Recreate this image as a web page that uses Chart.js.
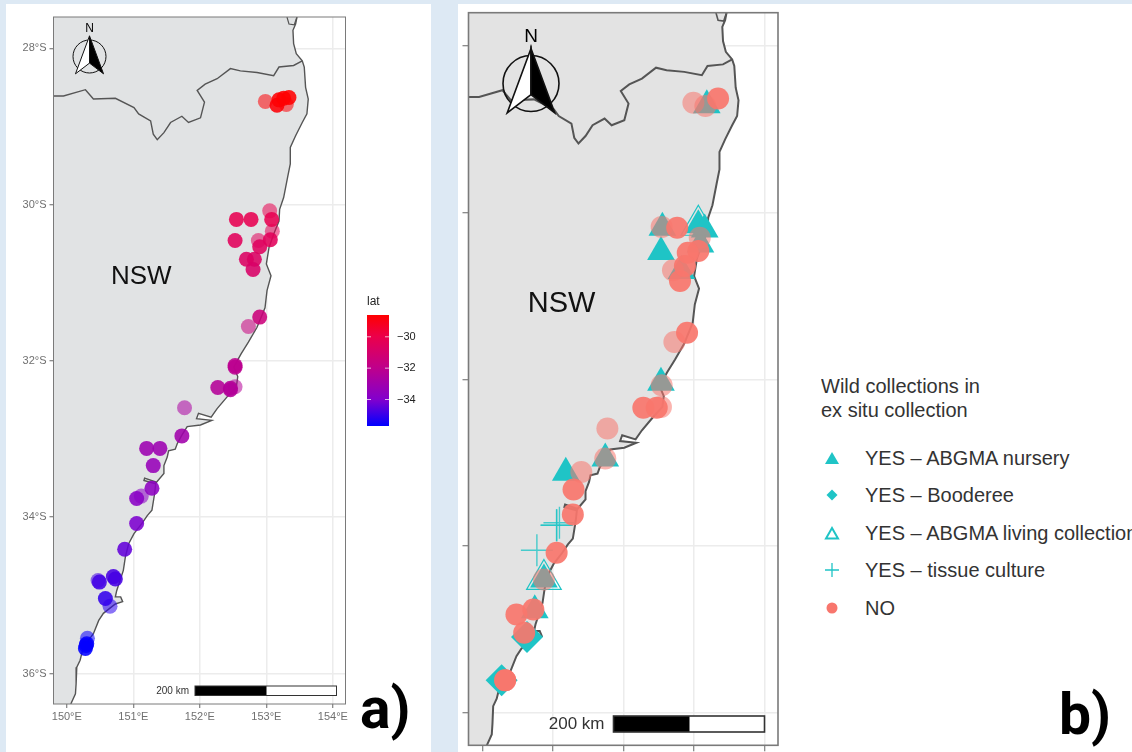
<!DOCTYPE html>
<html>
<head>
<meta charset="utf-8">
<title>Wild collections map</title>
<script src="https://cdn.jsdelivr.net/npm/chart.js@4"></script>
<style>
  html, body { margin: 0; padding: 0; background: #dde9f4; width: 1132px; height: 752px; overflow: hidden; }
  .panel { position: absolute; background: #fff; top: 4px; bottom: 0; height: 748px; }
  #panelA { left: 6px; width: 425px; }
  #panelB { left: 458px; width: 674px; }
  canvas { position: absolute; top: 0; }
  #mapA { left: 0; }
  #mapB { left: 456px; }
  .tag { position: absolute; font: 700 57px Roboto, sans-serif; color: #000; line-height: 1; }
  #legend { position: absolute; left: 821px; top: 374px; width: 311px; height: 250px; overflow: hidden; font: 20px "Liberation Sans", sans-serif; color: #333; white-space: nowrap; }
  #legend .title { position: absolute; left: 0; line-height: 24px; top: 0; }
  #legend .row { position: absolute; left: 44px; line-height: 24px; }
  #legend svg { position: absolute; left: 3px; width: 16px; height: 16px; }
</style>
</head>
<body>
<div class="panel" id="panelA"></div>
<div class="panel" id="panelB"></div>
<canvas id="mapA" width="432" height="752"></canvas>
<canvas id="mapB" width="330" height="752"></canvas>
<div class="tag" style="left:360px;top:680px">a)</div>
<div class="tag" style="left:1059px;top:686px">b)</div>
<div id="legend"></div>
<script>
// Map limits and ticks
const lonMin = 149.8, lonMax = 154.19, latMin = -36.39, latMax = -27.6;
const lonTicks = [150, 151, 152, 153, 154];
const lonLabels = ['150°E', '151°E', '152°E', '153°E', '154°E'];
const latTicks = [-28, -30, -32, -34, -36];
const latLabels = ['28°S', '30°S', '32°S', '34°S', '36°S'];

// Coast from north to south, [lon, lat]
const coastline = [
  [153.46,-27.60],[153.44,-27.69],[153.40,-27.77],[153.41,-27.94],[153.45,-28.07],[153.54,-28.16],
  [153.57,-28.24],[153.59,-28.50],[153.63,-28.65],[153.61,-28.84],[153.54,-28.95],[153.44,-29.12],
  [153.36,-29.27],[153.36,-29.48],[153.32,-29.65],[153.26,-29.91],[153.20,-30.06],[153.19,-30.21],
  [153.11,-30.38],[153.04,-30.55],[153.00,-30.76],[153.07,-30.91],[153.01,-31.10],[152.98,-31.32],
  [152.86,-31.57],[152.73,-31.76],[152.62,-31.91],[152.51,-32.08],[152.57,-32.20],[152.55,-32.33],
  [152.41,-32.46],[152.26,-32.61],[152.17,-32.72],[151.98,-32.67],[151.95,-32.74],[152.18,-32.76],
  [152.01,-32.82],[151.81,-32.84],[151.73,-32.95],[151.66,-33.06],[151.63,-33.13],[151.53,-33.15],
  [151.51,-33.23],[151.46,-33.34],[151.46,-33.44],[151.33,-33.57],[151.16,-33.53],[151.17,-33.50],
  [151.34,-33.55],[151.32,-33.70],[151.28,-33.91],[151.21,-33.98],[151.13,-34.08],[151.01,-34.21],
  [150.93,-34.34],[150.88,-34.51],[150.85,-34.68],[150.75,-34.94],[150.73,-35.02],[150.81,-35.02],
  [150.84,-35.08],[150.73,-35.11],[150.55,-35.23],[150.48,-35.32],[150.40,-35.49],[150.25,-35.66],
  [150.20,-35.83],[150.15,-35.92],[150.14,-36.13],[150.13,-36.26],[150.06,-36.39]
];
const bayLoop = [[153.31,-27.60],[153.34,-27.69],[153.42,-27.70],[153.46,-27.60]];
const stateBorder = [
  [149.80,-28.61],[149.95,-28.61],[150.28,-28.53],[150.40,-28.65],[150.73,-28.64],[151.01,-28.76],
  [151.08,-28.84],[151.26,-28.93],[151.30,-29.10],[151.36,-29.17],[151.46,-29.08],[151.56,-28.95],
  [151.73,-28.87],[151.83,-28.95],[152.01,-28.89],[152.07,-28.69],[151.96,-28.54],[152.08,-28.46],
  [152.26,-28.39],[152.46,-28.26],[152.61,-28.29],[152.86,-28.31],[153.11,-28.35],[153.19,-28.24],
  [153.41,-28.22],[153.54,-28.16]
];

// Panel a occurrences
const sitesSolid = [
  [153.16,-28.73],[153.19,-28.66],[153.26,-28.64],[153.34,-28.63],[153.08,-30.19],[153.06,-30.45],
  [152.55,-30.19],[152.77,-30.19],[152.53,-30.46],[152.90,-30.54],[152.70,-30.70],[152.82,-30.70],
  [152.80,-30.83],[152.90,-31.44],[152.53,-32.06],[152.53,-32.08],[152.27,-32.34],[152.46,-32.35],
  [152.46,-32.37],[151.73,-32.96],[151.20,-33.12],[151.40,-33.12],[151.30,-33.34],[151.28,-33.63],
  [151.05,-33.76],[151.05,-34.08],[150.87,-34.41],[150.70,-34.76],[150.73,-34.79],[150.49,-34.83],
  [150.58,-35.04],[150.30,-35.62],[150.28,-35.68],[150.29,-35.64]
];
const sitesFaint = [
  [152.985,-28.68],[153.30,-28.72],[153.05,-30.08],[153.09,-30.34],[152.88,-30.46],[152.73,-31.56],
  [152.53,-32.33],[151.77,-32.60],[151.12,-33.73],[150.47,-34.81],[150.65,-35.14],[150.31,-35.55]
];

// Colour bar
const latBarTop = -28.61, latBarBottom = -35.69;
const latBarTicks = [-30, -32, -34];
const latBarLabels = ['−30', '−32', '−34'];
const latColorStops = [
  [-35.69, [0, 0, 255]], [-34, [130, 0, 205]], [-32, [190, 0, 140]], [-30, [235, 0, 75]], [-28.61, [255, 0, 0]]
];

// Panel b occurrences
const noSolid = [
  [153.34,-28.63],[152.76,-30.18],[153.06,-30.46],[152.91,-30.48],[152.80,-30.82],[152.87,-30.64],
  [152.90,-31.44],[152.28,-32.34],[152.47,-32.34],[151.29,-33.32],[151.28,-33.62],[151.05,-34.08],
  [150.48,-34.82],[150.72,-34.76],[150.59,-35.04],[150.32,-35.61],[150.32,-35.61]
];
const noFaint = [
  [152.99,-28.68],[153.16,-28.72],[152.54,-30.17],[153.08,-30.30],[152.70,-30.69],[152.72,-31.55],
  [152.54,-32.07],[152.53,-32.33],[151.77,-32.59],[151.74,-32.95],[151.40,-33.11],[150.87,-34.40]
];
const nurseryPoints = [
  [153.18,-28.71],[152.55,-30.18],[152.53,-30.47],[153.06,-30.15],[153.15,-30.20],[153.09,-30.38],
  [152.82,-30.70],[152.53,-32.04],[151.74,-32.95],[151.18,-33.12],[150.87,-34.40],[150.74,-34.77]
];
const booderePoints = [[150.27,-35.61],[150.63,-35.09]];
const livingPoints = [[153.06,-30.15],[150.87,-34.40]];
const tissuePoints = [[151.05,-33.75],[151.05,-33.75],[151.09,-33.72],[150.77,-34.05]];

const legendLabels = ['YES – ABGMA nursery', 'YES – Booderee', 'YES – ABGMA living collection', 'YES – tissue culture', 'NO'];
const legendTitle = ['Wild collections in', 'ex situ collection'];

const TEAL = '#1fc4c6';
const SALMON = '248,118,109';

function latColor(lat, alpha) {
  let a = latColorStops[0], b = latColorStops[1];
  for (let i = 0; i < latColorStops.length - 1; i++) {
    if (lat >= latColorStops[i][0]) { a = latColorStops[i]; b = latColorStops[i + 1]; }
  }
  const t = Math.min(1, Math.max(0, (lat - a[0]) / (b[0] - a[0])));
  const c = a[1].map((v, i) => Math.round(v + (b[1][i] - v) * t));
  return `rgba(${c[0]},${c[1]},${c[2]},${alpha})`;
}

const xy = list => list.map(p => ({ x: p[0], y: p[1] }));

function lineSet(list, width) {
  return { data: xy(list), showLine: true, fill: false, pointRadius: 0, borderColor: '#555', borderWidth: width, tension: 0 };
}

function compass(ctx, cx, cy, r, fontSize) {
  ctx.save();
  ctx.strokeStyle = '#111';
  ctx.lineWidth = r > 20 ? 1.6 : 1;
  ctx.beginPath();
  ctx.arc(cx, cy, r, 0, Math.PI * 2);
  ctx.stroke();
  const apex = [cx, cy - 1.25 * r], notch = [cx, cy + 0.4 * r];
  const left = [cx - 0.85 * r, cy + 1.05 * r], right = [cx + 0.85 * r, cy + 1.05 * r];
  ctx.fillStyle = '#fff';
  ctx.beginPath();
  ctx.moveTo(...apex); ctx.lineTo(...left); ctx.lineTo(...notch); ctx.closePath();
  ctx.fill(); ctx.stroke();
  ctx.fillStyle = '#000';
  ctx.beginPath();
  ctx.moveTo(...apex); ctx.lineTo(...right); ctx.lineTo(...notch); ctx.closePath();
  ctx.fill(); ctx.stroke();
  ctx.font = fontSize + 'px "Liberation Sans"';
  ctx.textAlign = 'center';
  ctx.textBaseline = 'middle';
  ctx.fillStyle = '#000';
  ctx.fillText('N', cx, cy - 1.25 * r - fontSize * 0.62);
  ctx.restore();
}

// land under the marks, frame, compass, scale bar and NSW label on top
function mapDecor(o) {
  return {
    id: 'mapDecor',
    beforeDatasetsDraw(chart) {
      const { ctx, chartArea: a, scales: { x, y } } = chart;
      ctx.save();
      ctx.beginPath();
      ctx.rect(a.left, a.top, a.width, a.height);
      ctx.clip();
      ctx.fillStyle = o.land;
      ctx.beginPath();
      coastline.forEach((p, i) => {
        const px = x.getPixelForValue(p[0]), py = y.getPixelForValue(p[1]);
        if (i) ctx.lineTo(px, py); else ctx.moveTo(px, py);
      });
      ctx.lineTo(x.getPixelForValue(lonMin), y.getPixelForValue(latMin));
      ctx.lineTo(x.getPixelForValue(lonMin), y.getPixelForValue(latMax));
      ctx.closePath();
      ctx.fill();
      ctx.restore();
      ctx.save();
      ctx.font = o.nswFont + 'px "Liberation Sans"';
      ctx.fillStyle = '#111';
      ctx.textAlign = 'center';
      ctx.textBaseline = 'middle';
      ctx.fillText('NSW', x.getPixelForValue(151.12), y.getPixelForValue(o.nswLat));
      ctx.restore();
    },
    afterDatasetsDraw(chart) {
      const { ctx, chartArea: a } = chart;
      ctx.save();
      ctx.strokeStyle = '#7a7a7a';
      ctx.lineWidth = o.frame;
      ctx.strokeRect(a.left, a.top, a.width, a.height);
      // scale bar
      const b = o.bar;
      ctx.fillStyle = '#fff';
      ctx.fillRect(b.x0, b.y, b.x2 - b.x0, b.h);
      ctx.fillStyle = '#000';
      ctx.fillRect(b.x0, b.y, b.x1 - b.x0, b.h);
      ctx.strokeStyle = '#333';
      ctx.lineWidth = o.frame;
      ctx.strokeRect(b.x0, b.y, b.x2 - b.x0, b.h);
      ctx.font = b.font + 'px "Liberation Sans"';
      ctx.fillStyle = '#333';
      ctx.textAlign = 'right';
      ctx.textBaseline = 'middle';
      ctx.fillText('200 km', b.x0 - b.gap, b.y + b.h / 2);
      ctx.restore();
      compass(ctx, o.cx, o.cy, o.r, o.nFont);
    }
  };
}

const colorBar = {
  id: 'colorBar',
  afterDraw(chart) {
    const ctx = chart.ctx;
    const left = 367, width = 22, top = 315, height = 111;
    const g = ctx.createLinearGradient(0, top, 0, top + height);
    latColorStops.forEach(s => g.addColorStop((latBarTop - s[0]) / (latBarTop - latBarBottom), `rgb(${s[1].join(',')})`));
    ctx.save();
    ctx.fillStyle = g;
    ctx.fillRect(left, top, width, height);
    ctx.font = '12px "Liberation Sans"';
    ctx.fillStyle = '#222';
    ctx.textBaseline = 'middle';
    ctx.fillText('lat', left, 302);
    ctx.font = '11px "Liberation Sans"';
    latBarTicks.forEach((v, i) => {
      const py = top + (latBarTop - v) / (latBarTop - latBarBottom) * height;
      ctx.fillStyle = 'rgba(255,255,255,0.7)';
      ctx.fillRect(left, py - 0.5, 4, 1);
      ctx.fillRect(left + width - 4, py - 0.5, 4, 1);
      ctx.fillStyle = '#222';
      ctx.fillText(latBarLabels[i], left + width + 8, py);
    });
    ctx.restore();
  }
};

function makeOptions(o) {
  return {
    responsive: false,
    animation: false,
    events: [],
    layout: { padding: o.padding, autoPadding: false },
    plugins: { legend: { display: false }, tooltip: { enabled: false } },
    scales: {
      x: {
        type: 'linear', min: lonMin, max: lonMax,
        afterBuildTicks: s => { s.ticks = lonTicks.map(v => ({ value: v })); },
        afterFit: s => { s.height = o.xHeight; },
        border: { display: false },
        grid: { color: '#ececec', lineWidth: 1.5, tickColor: '#666', tickLength: o.tick, tickWidth: 1 },
        ticks: { display: o.labels, color: '#707070', padding: 2, maxRotation: 0, autoSkip: false, font: { size: 11 },
                 callback: (v, i) => lonLabels[i] }
      },
      y: {
        type: 'linear', min: latMin, max: latMax,
        afterBuildTicks: s => { s.ticks = latTicks.map(v => ({ value: v })); },
        afterFit: s => { s.width = o.yWidth; },
        border: { display: false },
        grid: { color: '#ececec', lineWidth: 1.5, tickColor: '#666', tickLength: o.tick, tickWidth: 1 },
        ticks: { display: o.labels, color: '#707070', padding: 3, autoSkip: false, font: { size: 11 },
                 callback: (v, i) => latLabels[i] }
      }
    }
  };
}

Chart.defaults.font.family = '"Liberation Sans", Arial, sans-serif';

// first dataset is painted last, so the lines go at the end of each list
new Chart(document.getElementById('mapA'), {
  type: 'scatter',
  data: {
    datasets: [
      { data: xy(sitesSolid), pointRadius: 7.5, borderWidth: 0,
        backgroundColor: c => latColor(c.raw.y, 0.88) },
      { data: xy(sitesFaint), pointRadius: 7.5, borderWidth: 0,
        backgroundColor: c => latColor(c.raw.y, 0.55) },
      lineSet(stateBorder, 1.4),
      lineSet(bayLoop, 1.2),
      lineSet(coastline, 1.4)
    ]
  },
  options: makeOptions({ padding: { top: 17, right: 86.5 }, xHeight: 48, yWidth: 53.5, tick: 4, labels: true }),
  plugins: [
    mapDecor({ land: '#e1e3e4', nswFont: 26, nswLat: -30.93, frame: 1, cx: 89.5, cy: 56.5, r: 16.5, nFont: 12,
               bar: { x0: 195, x1: 266.5, x2: 336.5, y: 686, h: 9.5, font: 10, gap: 6 } }),
    colorBar
  ]
});

new Chart(document.getElementById('mapB'), {
  type: 'scatter',
  data: {
    datasets: [
      { data: xy(noSolid), pointRadius: 11, borderWidth: 0, backgroundColor: `rgba(${SALMON},0.92)` },
      { data: xy(noFaint), pointRadius: 11, borderWidth: 0, backgroundColor: `rgba(${SALMON},0.55)` },
      { data: xy(tissuePoints), pointStyle: 'cross', pointRadius: 16, borderWidth: 1.4, borderColor: 'rgba(31,196,198,0.8)' },
      { data: xy(livingPoints), pointStyle: 'triangle', pointRadius: 20, borderWidth: 1.2, borderColor: TEAL, backgroundColor: 'transparent' },
      { data: xy(nurseryPoints), pointStyle: 'triangle', pointRadius: 16, borderWidth: 0, backgroundColor: TEAL },
      { data: xy(booderePoints), pointStyle: 'rectRot', pointRadius: 16, borderWidth: 0, backgroundColor: TEAL },
      lineSet(stateBorder, 2),
      lineSet(bayLoop, 1.6),
      lineSet(coastline, 2)
    ]
  },
  options: makeOptions({ padding: { top: 12.7, right: 8 }, xHeight: 6.7, yWidth: 12.5, tick: 6, labels: false }),
  plugins: [
    mapDecor({ land: '#e3e3e3', nswFont: 29, nswLat: -31.09, frame: 1.6, cx: 75, cy: 83.5, r: 28, nFont: 19,
               bar: { x0: 157.5, x1: 233.5, x2: 308.5, y: 716, h: 16, font: 17, gap: 9 } })
  ]
});

// Legend beside panel b
const markers = [
  `<polygon points="8,2 15,14 1,14" fill="${TEAL}"/>`,
  `<polygon points="8,2.5 13.5,8 8,13.5 2.5,8" fill="${TEAL}"/>`,
  `<polygon points="8,3 14,13.5 2,13.5" fill="none" stroke="${TEAL}" stroke-width="2"/>`,
  `<path d="M8 1V15M1 8H15" stroke="${TEAL}" stroke-width="1.3" fill="none"/>`,
  `<circle cx="8" cy="8" r="5.5" fill="rgb(${SALMON})"/>`
];
const legend = document.getElementById('legend');
legendTitle.forEach((line, i) => {
  const d = document.createElement('div');
  d.className = 'title';
  d.style.top = (i * 24) + 'px';
  d.textContent = line;
  legend.appendChild(d);
});
legendLabels.forEach((label, i) => {
  const mid = 83.5 + i * 37.6;
  const d = document.createElement('div');
  d.className = 'row';
  d.style.top = (mid - 12) + 'px';
  d.textContent = label;
  legend.appendChild(d);
  const s = document.createElementNS('http://www.w3.org/2000/svg', 'svg');
  s.setAttribute('viewBox', '0 0 16 16');
  s.style.top = (mid - 8) + 'px';
  s.innerHTML = markers[i];
  legend.appendChild(s);
});
</script>
</body>
</html>
